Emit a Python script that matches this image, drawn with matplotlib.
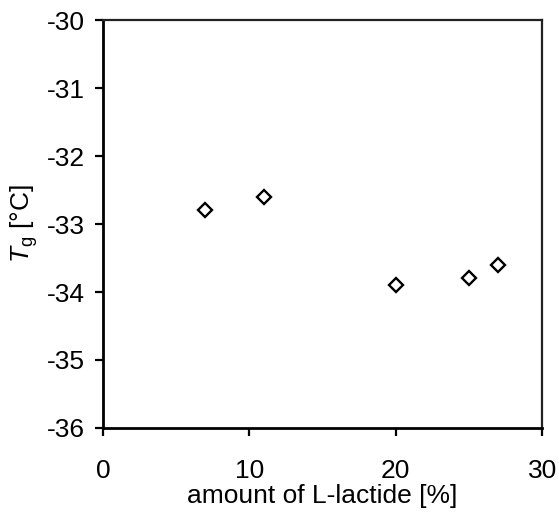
import matplotlib
matplotlib.use("Agg")
import matplotlib.pyplot as plt

# L-lactide content vs glass transition temperature
lactide_pct = [7, 11, 20, 25, 27]
tg_celsius = [-32.8, -32.6, -33.9, -33.8, -33.6]
x_ticks = [0, 10, 20, 30]
y_ticks = [-36, -35, -34, -33, -32, -31, -30]

plt.rcParams['font.family'] = ['Liberation Sans', 'DejaVu Sans']
plt.rcParams['mathtext.fontset'] = 'custom'
plt.rcParams['mathtext.rm'] = 'Liberation Sans'
plt.rcParams['mathtext.it'] = 'Liberation Sans:italic'

fig = plt.figure(figsize=(5.59, 5.15), dpi=100)
ax = fig.add_axes([0.184, 0.169, 0.786, 0.792])

ax.plot(lactide_pct, tg_celsius, linestyle='none', marker='D', markersize=7,
        markerfacecolor='white', markeredgecolor='black', markeredgewidth=1.7)

ax.set_xlim(0, 30)
ax.set_ylim(-36, -30)
ax.set_xticks(x_ticks)
ax.set_yticks(y_ticks)
ax.set_yticklabels([str(v) for v in y_ticks])

for side in ['left', 'bottom']:
    ax.spines[side].set_linewidth(2.0)
    ax.spines[side].set_color('black')
for side in ['top', 'right']:
    ax.spines[side].set_linewidth(1.6)
    ax.spines[side].set_color('#222222')

ax.tick_params(axis='both', direction='out', length=6, width=1.6,
               labelsize=19, colors='black', pad=7)
ax.tick_params(axis='x', pad=16)

ax.set_xlabel('amount of L-lactide [%]', fontsize=19, labelpad=1)
ax.set_ylabel(r'$T_{\mathrm{g}}$ [°C]', fontsize=19, labelpad=5)

fig.savefig('out.png', dpi=100)
